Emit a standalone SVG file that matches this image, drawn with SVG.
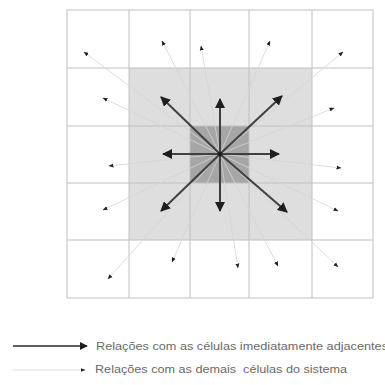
<svg xmlns="http://www.w3.org/2000/svg" width="385" height="385" viewBox="0 0 385 385">
<style>
.grid{stroke:#c0c0c0;stroke-width:1;fill:none}
.far{stroke:#d4d4d4;stroke-width:0.8;fill:none;marker-end:url(#sm)}
.near{stroke:#404040;stroke-width:2;fill:none;marker-end:url(#big)}
.lbl{font-family:"Liberation Sans",Arial,sans-serif;font-size:10px;fill:#6a6a6a}
</style>
<defs>
<marker id="big" viewBox="0 0 10 10" refX="9" refY="5" markerWidth="5" markerHeight="5" orient="auto" markerUnits="strokeWidth">
<path d="M0,0 L10,5 L0,10 Z" fill="#1e1e1e"/>
</marker>
<marker id="sm" viewBox="0 0 10 10" refX="9" refY="5" markerWidth="5" markerHeight="5" orient="auto" markerUnits="userSpaceOnUse">
<path d="M0,1 L10,5 L0,9 Z" fill="#222"/>
</marker>
</defs>
<rect width="385" height="385" fill="#fff"/>
<g id="adjacent-zone">
<rect x="129" y="68" width="183" height="172" fill="#dedede"/>
</g>
<g id="center-cell">
<rect x="190" y="126" width="59" height="57" fill="#a6a6a6"/>
</g>
<g id="grid">
<rect class="grid" x="67" y="10" width="306" height="288"/>
<line class="grid" x1="129" y1="10" x2="129" y2="298"/>
<line class="grid" x1="190" y1="10" x2="190" y2="298"/>
<line class="grid" x1="249" y1="10" x2="249" y2="298"/>
<line class="grid" x1="312" y1="10" x2="312" y2="298"/>
<line class="grid" x1="67" y1="68" x2="373" y2="68"/>
<line class="grid" x1="67" y1="126" x2="373" y2="126"/>
<line class="grid" x1="67" y1="183" x2="373" y2="183"/>
<line class="grid" x1="67" y1="240" x2="373" y2="240"/>
</g>
<g id="connectors">
<g id="far-relations">
<line class="far" x1="220" y1="154" x2="84" y2="52"/>
<line class="far" x1="220" y1="154" x2="162" y2="41"/>
<line class="far" x1="220" y1="154" x2="201" y2="46"/>
<line class="far" x1="220" y1="154" x2="270" y2="41"/>
<line class="far" x1="220" y1="154" x2="343" y2="52"/>
<line class="far" x1="220" y1="154" x2="103" y2="98"/>
<line class="far" x1="220" y1="154" x2="334" y2="108"/>
<line class="far" x1="220" y1="154" x2="109" y2="166"/>
<line class="far" x1="220" y1="154" x2="341" y2="168"/>
<line class="far" x1="220" y1="154" x2="103" y2="210"/>
<line class="far" x1="220" y1="154" x2="338" y2="211"/>
<line class="far" x1="220" y1="154" x2="108" y2="279"/>
<line class="far" x1="220" y1="154" x2="172" y2="262"/>
<line class="far" x1="220" y1="154" x2="238" y2="268"/>
<line class="far" x1="220" y1="154" x2="278" y2="266"/>
<line class="far" x1="220" y1="154" x2="338" y2="267"/>
</g>
<g id="near-relations">
<line class="near" x1="220" y1="154" x2="220" y2="99"/>
<line class="near" x1="220" y1="154" x2="220" y2="211"/>
<line class="near" x1="220" y1="154" x2="163" y2="154"/>
<line class="near" x1="220" y1="154" x2="279" y2="154"/>
<line class="near" x1="220" y1="154" x2="161" y2="97"/>
<line class="near" x1="220" y1="154" x2="282" y2="96"/>
<line class="near" x1="220" y1="154" x2="161" y2="211"/>
<line class="near" x1="220" y1="154" x2="287" y2="212"/>
</g>
<circle cx="220" cy="154" r="2.2" fill="#1e1e1e"/>
</g>
<g id="legend">
<line x1="13" y1="346" x2="87" y2="346" stroke="#2a2a2a" stroke-width="1.6" marker-end="url(#big)"/>
<text class="lbl" x="96" y="350" textLength="292" lengthAdjust="spacingAndGlyphs">Relações com as células imediatamente adjacentes</text>
<line x1="13" y1="370" x2="85" y2="370" stroke="#d6d6d6" stroke-width="0.8" marker-end="url(#sm)"/>
<text class="lbl" x="95" y="373" textLength="252" lengthAdjust="spacingAndGlyphs">Relações com as demais&#160; células do sistema</text>
</g>
</svg>
